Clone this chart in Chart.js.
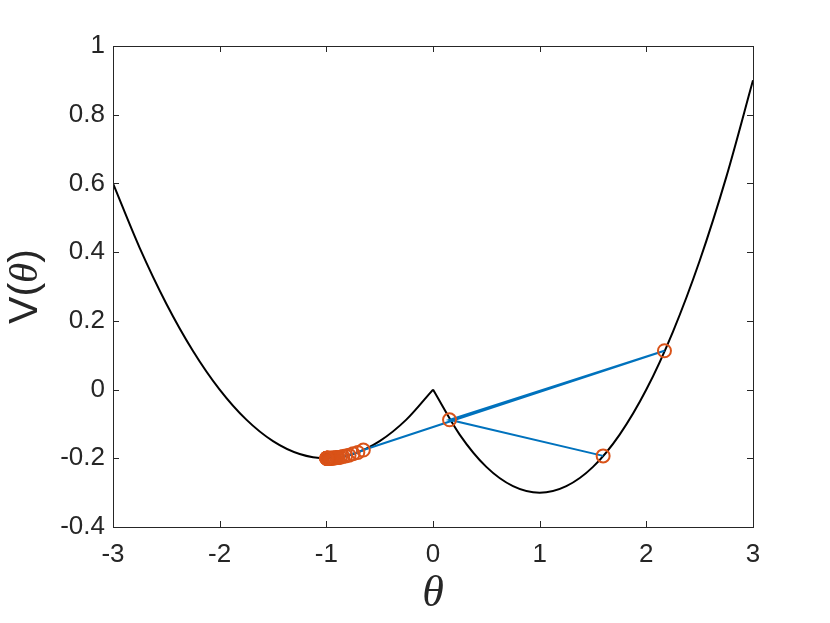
<!DOCTYPE html>
<html>
<head>
<meta charset="utf-8">
<script src="https://cdn.jsdelivr.net/npm/chart.js@4/dist/chart.umd.min.js"></script>
<style>
  body { margin: 0; background: #fff; }
  #wrap { width: 830px; height: 623px; }
</style>
</head>
<body>
<div id="wrap"><canvas id="plot" width="830" height="623"></canvas></div>
<script>
// potential curve V(theta) (two branches meeting at the cusp)
let leftTheta = [-3, -2.75, -2.5, -2.25, -2, -1.75, -1.5, -1.25, -1, -0.75, -0.5, -0.25, 0];
let leftV = [0.6, 0.4125, 0.25, 0.1125, 0, -0.0875, -0.15, -0.1875, -0.2, -0.1875, -0.15, -0.0875, 0];
let rightTheta = [0, 0.25, 0.5, 0.75, 1, 1.25, 1.5, 1.75, 2, 2.25, 2.5, 2.75, 3];
let rightV = [0, -0.131, -0.225, -0.281, -0.3, -0.281, -0.225, -0.131, 0, 0.169, 0.375, 0.619, 0.9];

// iterates (blue path + orange circles)
let pathTheta = [1.595, 0.155, 2.17, -0.653, -0.705, -0.749, -0.787, -0.819, -0.846, -0.869, -0.889,
  -0.906, -0.92, -0.932, -0.942, -0.951, -0.958, -0.964, -0.97, -0.974, -0.978, -0.981, -0.984,
  -0.987, -0.989, -0.991, -0.993, -0.994, -0.995, -0.996, -0.997, -0.998];
let pathV = [-0.193, -0.088, 0.113, -0.176, -0.183, -0.187, -0.191, -0.193, -0.195, -0.197, -0.198,
  -0.198, -0.199, -0.199, -0.199, -0.2, -0.2, -0.2, -0.2, -0.2, -0.2, -0.2, -0.2,
  -0.2, -0.2, -0.2, -0.2, -0.2, -0.2, -0.2, -0.2, -0.2];

let xTicks = [-3, -2, -1, 0, 1, 2, 3];
let yTicks = [-0.4, -0.2, 0, 0.2, 0.4, 0.6, 0.8, 1];

const axisColor = "#262626";

function pts(xs, ys) {
  return xs.map((x, i) => ({ x: x, y: ys[i] }));
}

// box around the axes and inward tick marks on all four sides
const boxPlugin = {
  id: "box",
  afterDraw(chart) {
    const ctx = chart.ctx;
    const a = chart.chartArea;
    const xs = chart.scales.x;
    const ys = chart.scales.y;
    ctx.save();
    ctx.strokeStyle = axisColor;
    ctx.lineWidth = 1;
    ctx.strokeRect(a.left + 0.5, a.top + 0.5, a.right - a.left, a.bottom - a.top);
    ctx.beginPath();
    xTicks.forEach((t) => {
      const px = Math.round(xs.getPixelForValue(t)) + 0.5;
      ctx.moveTo(px, a.bottom);
      ctx.lineTo(px, a.bottom - 6);
      ctx.moveTo(px, a.top);
      ctx.lineTo(px, a.top + 6);
    });
    yTicks.forEach((t) => {
      const py = Math.round(ys.getPixelForValue(t)) + 0.5;
      ctx.moveTo(a.left, py);
      ctx.lineTo(a.left + 6, py);
      ctx.moveTo(a.right, py);
      ctx.lineTo(a.right - 6, py);
    });
    ctx.stroke();

    // y label: V(θ) with an italic serif theta
    ctx.translate(26, (a.top + a.bottom) / 2);
    ctx.rotate(-Math.PI / 2);
    ctx.fillStyle = axisColor;
    ctx.textBaseline = "middle";
    const sans = "41px 'Liberation Sans'";
    const serif = "italic 41px 'Liberation Serif'";
    const parts = [["V(", sans], ["θ", serif], [")", sans]];
    let w = 0;
    parts.forEach((p) => { ctx.font = p[1]; w += ctx.measureText(p[0]).width; });
    let cx = -w / 2;
    parts.forEach((p) => {
      ctx.font = p[1];
      ctx.fillText(p[0], cx, 0);
      cx += ctx.measureText(p[0]).width;
    });
    ctx.restore();
  },
};

const curveStyle = {
  showLine: true,
  borderColor: "#000000",
  borderWidth: 2,
  pointRadius: 0,
  cubicInterpolationMode: "monotone",
  order: 3,
};

window.addEventListener("load", () => {
  new Chart(document.getElementById("plot"), {
    type: "scatter",
    data: {
      datasets: [
        Object.assign({ data: pts(leftTheta, leftV) }, curveStyle),
        Object.assign({ data: pts(rightTheta, rightV) }, curveStyle),
        {
          data: pts(pathTheta, pathV),
          showLine: true,
          borderColor: "#0072BD",
          borderWidth: 2,
          pointRadius: 0,
          order: 2,
        },
        {
          data: pts(pathTheta, pathV),
          showLine: false,
          pointStyle: "circle",
          pointRadius: 6.5,
          pointBorderWidth: 2,
          pointBorderColor: "#D95319",
          pointBackgroundColor: "rgba(0,0,0,0)",
          order: 1,
        },
      ],
    },
    plugins: [boxPlugin],
    options: {
      responsive: false,
      animation: false,
      layout: { padding: { top: 46, right: 77, left: 0, bottom: 0 } },
      scales: {
        x: {
          type: "linear",
          min: -3,
          max: 3,
          afterBuildTicks: (s) => { s.ticks = xTicks.map((v) => ({ value: v })); },
          afterFit: (s) => { s.height = 96; },
          grid: { display: false, drawTicks: false },
          border: { display: false },
          ticks: {
            padding: 12,
            color: axisColor,
            font: { family: "Liberation Sans", size: 26 },
          },
          title: {
            display: true,
            text: "θ",
            color: axisColor,
            padding: { top: 0, bottom: 2 },
            font: { family: "Liberation Serif", style: "italic", size: 44 },
          },
        },
        y: {
          type: "linear",
          min: -0.4,
          max: 1,
          afterBuildTicks: (s) => { s.ticks = yTicks.map((v) => ({ value: v })); },
          afterFit: (s) => { s.width = 113; },
          grid: { display: false, drawTicks: false },
          border: { display: false },
          ticks: {
            padding: 8,
            color: axisColor,
            font: { family: "Liberation Sans", size: 26 },
            callback: (v) => String(Math.round(v * 10) / 10),
          },
        },
      },
      plugins: {
        legend: { display: false },
        tooltip: { enabled: false },
      },
    },
  });
});
</script>
</body>
</html>
